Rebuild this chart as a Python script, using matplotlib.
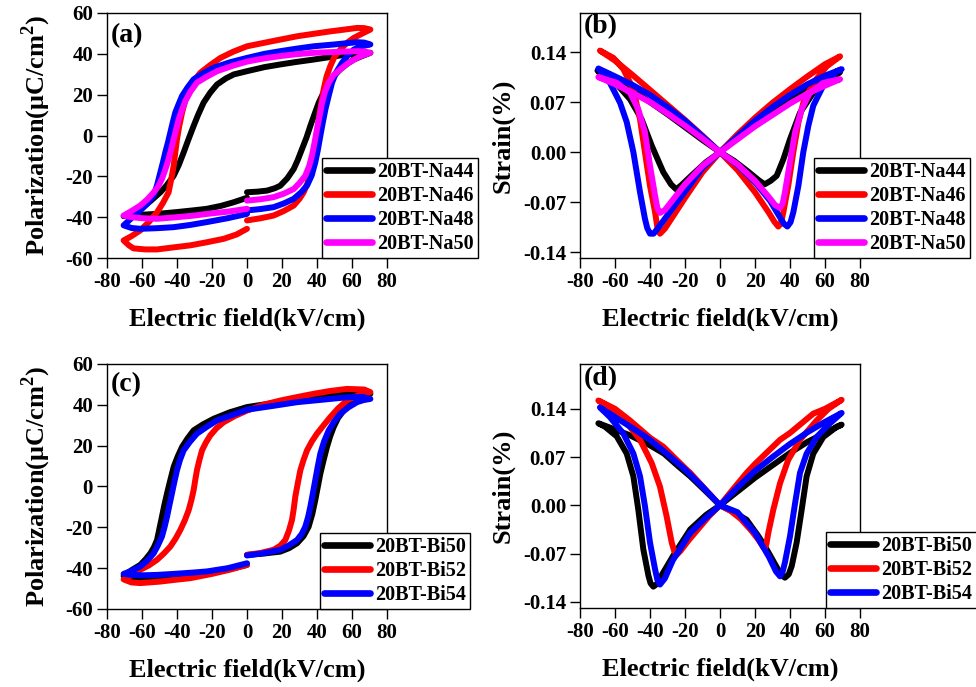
import matplotlib
matplotlib.use('Agg')
import matplotlib.pyplot as plt

plt.rcParams['font.family'] = ['Liberation Serif', 'DejaVu Serif']
plt.rcParams['font.weight'] = 'bold'
plt.rcParams['axes.labelweight'] = 'bold'
plt.rcParams['axes.unicode_minus'] = False
plt.rcParams['mathtext.fontset'] = 'custom'
plt.rcParams['mathtext.rm'] = 'Liberation Serif:bold'
plt.rcParams['mathtext.bf'] = 'Liberation Serif:bold'

# ---------------- P-E loops, Na series (a) ----------------
# path: 0 -> +70 (rising), +70 -> -70 (upper), -70 -> 0 (lower)
na44_e = [0, 6, 11.4, 16, 19, 23, 26.7, 29, 31.4, 34, 36.2, 38.6, 41, 44, 46.7, 50, 53.3, 57, 61, 66, 70.5,
          66, 57, 48, 38.1, 28, 19, 10, 0, -7.6, -12, -17.1, -21, -24.8, -28, -30.5, -33.5, -36.2, -39,
          -41.9, -46, -49.5, -55, -61, -66, -70.5,
          -66, -60, -51.4, -40, -30, -22.9, -15, -8, 0]
na44_p = [-27.8, -27.5, -27, -25.8, -24.6, -21, -16.4, -12, -6.7, -1, 4.7, 10.5, 16.1, 21.5, 25.9, 29.5, 32.4, 35, 37.2, 39, 40.5,
          40, 39.7, 38.5, 37.2, 36, 34.8, 33.5, 31.5, 29.9, 28, 25, 21, 16.1, 10, 4.7, -2, -8.3, -14.5,
          -19.7, -24.5, -27.8, -32, -36, -38.3, -39.5,
          -39.2, -38.8, -38.4, -37.5, -36.6, -35.9, -34.5, -32.8, -30.5]

na46_e = [0, 8, 15.2, 21, 26.7, 30, 32.4, 34.5, 36.2, 37.8, 39, 40, 41, 42.3, 43.8, 45.5, 47.6, 50, 53.3, 57, 61, 66, 70.5,
          67, 62.9, 55, 47.6, 38, 28.6, 15, 0, -8, -15.2, -21, -26.7, -30.5, -33.3, -35.3, -37.1, -38.7, -40,
          -41, -41.9, -43.3, -44.8, -48, -51.4, -56, -61, -66, -70.5,
          -67.5, -64.8, -58, -51.4, -42, -32.4, -23, -13.3, -6, 0]
na46_p = [-41.6, -40.5, -39.2, -37, -34.3, -31, -27.8, -23.5, -18, -11.5, -5, 1.5, 8, 15, 22.6, 29, 34, 38.5, 42.1, 45.3, 47.8, 50, 51.9,
          52.6, 52.7, 51.8, 51, 49.8, 48.6, 46.3, 43.7, 41, 38, 34.5, 30.7, 26.5, 22.6, 17, 11.2, 4.7, -1.8,
          -8.5, -14.8, -21.5, -27.8, -33, -37.6, -42.3, -46.5, -49.3, -51.4,
          -53.8, -55.3, -55.8, -55.8, -54.8, -53.8, -52.3, -50.6, -48.5, -45.7]

na48_e = [0, 8, 15.2, 21, 26.7, 31, 34.3, 37, 39, 40.5, 41.9, 43.3, 44.8, 46.7, 48.6, 51, 54.3, 57.5, 61, 65.5, 70.5,
          67, 62.9, 50, 38.1, 28, 19, 10, 0, -10, -19, -25, -30.5, -34, -37.1, -39, -41, -42.4, -43.8,
          -45.2, -46.7, -48, -49.5, -51.3, -53.3, -57, -61, -66, -70.5,
          -66, -61, -51.4, -41.9, -32.4, -22.9, -11, 0]
na48_p = [-36.7, -36, -35.1, -33.3, -31, -27.8, -24.5, -19.5, -13.2, -7, -0.2, 6.3, 12.8, 19.5, 25.9, 31, 35.6, 39.2, 42.1, 43.7, 44.6,
          45.5, 45.7, 44.6, 43.7, 42.5, 41.3, 40, 38, 35.8, 33.2, 30.5, 27.5, 23.5, 19.4, 15.5, 11.2, 6.5, 1.5,
          -3.5, -8.3, -13, -18, -24, -29.4, -33.5, -36.7, -40.5, -44,
          -45.3, -45.7, -45.4, -44.9, -43.8, -42.4, -40.5, -38.4]

na50_e = [0, 8, 15.2, 21, 26.7, 30, 33.3, 35.5, 37.1, 38.6, 40, 41.5, 42.9, 44.6, 46.7, 49.5, 53.3, 58, 62.9, 67, 70.5,
          67, 62.9, 50, 38.1, 28, 19, 10, 0, -8, -17.1, -23, -28.6, -32.3, -35.2, -37.2, -39, -40.5, -41.9,
          -43.3, -44.8, -46.6, -48.6, -50.8, -53.3, -57, -61, -66, -70.5,
          -66, -60, -51.4, -40, -30, -22.9, -11, 0]
na50_p = [-31.9, -31.2, -30.2, -28.5, -26.2, -23.3, -19.7, -15, -9.9, -3.5, 3.1, 9.6, 16.1, 21.5, 25.9, 29.6, 32.4, 35.5, 38, 39.5, 40.5,
          41.2, 41.3, 40.9, 40.5, 39.8, 38.9, 37.8, 36.2, 34.2, 31.5, 28.8, 25.9, 21.5, 16.9, 12.5, 8, 3, -1.8,
          -6.7, -11.5, -16.5, -21.3, -25, -27.8, -31.3, -34.3, -37, -39.2,
          -40, -40.5, -40.8, -40, -39.2, -38.4, -37.3, -35.9]

# ---------------- S-E loops, Na series (b) ----------------
# path: 0 -> right min -> +70 -> 0 -> left min -> -70 -> 0
sna44_e = [0, 8, 16, 22, 25.5, 29, 32.4, 36.2, 40, 45.7, 53.3, 61, 68.6,
           60, 50, 40, 30, 20, 10, 0,
           -8, -16, -22, -25, -28, -32.4, -39, -44.8, -51.4, -59, -66.7, -70,
           -60, -50, -40, -30, -20, -10, 0]
sna44_s = [0, -0.012, -0.027, -0.039, -0.045, -0.040, -0.033, -0.010, 0.018, 0.055, 0.083, 0.097, 0.112,
           0.103, 0.090, 0.075, 0.058, 0.040, 0.020, 0,
           -0.014, -0.032, -0.046, -0.052, -0.045, -0.028, 0.009, 0.046, 0.074, 0.095, 0.106, 0.114,
           0.100, 0.086, 0.070, 0.053, 0.035, 0.017, 0]

sna46_e = [0, 10, 20, 28, 31, 33.3, 34.8, 36.2, 39, 41.9, 44.8, 47.6, 53.3, 61, 68.6,
           60, 50, 40, 30, 20, 10, 0,
           -10, -20, -28, -31.5, -34.3, -35.8, -37.1, -40, -42.9, -45.7, -49.5, -55.2, -61, -68.6,
           -60, -50, -40, -30, -20, -10, 0]
sna46_s = [0, -0.025, -0.056, -0.085, -0.097, -0.104, -0.100, -0.084, -0.047, 0, 0.0415, 0.069, 0.097, 0.120, 0.134,
           0.123, 0.106, 0.088, 0.069, 0.048, 0.025, 0,
           -0.028, -0.064, -0.094, -0.107, -0.114, -0.105, -0.084, -0.047, 0, 0.046, 0.088, 0.116, 0.132, 0.142,
           0.128, 0.108, 0.087, 0.066, 0.045, 0.023, 0]

sna48_e = [0, 10, 20, 28.6, 34, 36.5, 38.5, 40.3, 41.9, 44.8, 47.6, 50.5, 53.3, 59, 66.7, 69.5,
           60, 50, 40, 30, 20, 10, 0,
           -10, -20, -30, -36, -38, -40, -41.6, -42.9, -45.7, -49.5, -53.3, -57.1, -62.9, -69.5,
           -60, -50, -40, -30, -20, -10, 0]
sna48_s = [0, -0.018, -0.042, -0.068, -0.090, -0.100, -0.104, -0.098, -0.084, -0.047, 0, 0.037, 0.065, 0.093, 0.113, 0.116,
           0.107, 0.095, 0.080, 0.063, 0.044, 0.022, 0,
           -0.022, -0.055, -0.088, -0.108, -0.114, -0.114, -0.106, -0.093, -0.056, 0, 0.042, 0.069, 0.097, 0.117,
           0.106, 0.094, 0.080, 0.063, 0.044, 0.022, 0]

sna50_e = [0, 10, 20, 28, 31.5, 34.3, 35.8, 37.1, 40, 42.9, 46.7, 51.4, 59, 68.6,
           60, 50, 40, 30, 20, 10, 0,
           -10, -20, -28, -31.5, -34.3, -35.8, -37.1, -40, -42.9, -46.7, -51.4, -59, -69.5,
           -60, -50, -40, -30, -20, -10, 0]
sna50_s = [0, -0.017, -0.040, -0.063, -0.074, -0.078, -0.072, -0.056, -0.014, 0.028, 0.060, 0.083, 0.097, 0.102,
           0.093, 0.082, 0.068, 0.052, 0.036, 0.018, 0,
           -0.019, -0.045, -0.070, -0.081, -0.085, -0.078, -0.061, -0.019, 0.028, 0.060, 0.083, 0.097, 0.105,
           0.095, 0.083, 0.070, 0.054, 0.037, 0.019, 0]

# ---------------- P-E loops, Bi series (c) ----------------
bi50_e = [0, 10, 19, 24, 28.6, 32.3, 35.2, 37.3, 39, 40.5, 41.9, 43.8, 45.7, 47.5, 49.5, 52, 55.2, 59, 62.9, 66.5, 70.5,
          66, 57.1, 47.6, 38, 28.6, 19, 10, 0, -10, -19, -25, -30.5, -34, -37.1, -39.7, -41.9, -43.8, -45.7,
          -47.2, -48.6, -50, -51.4, -53.2, -55.2, -58, -61, -66, -70.5,
          -66, -61, -50, -40, -32.4, -20, -10, 0]
bi50_p = [-33.5, -32.8, -31.9, -30.2, -27.8, -24.3, -19.7, -13.5, -6.7, 0, 6.3, 13, 19.4, 24.5, 29.1, 33.5, 37.2, 40.8, 43.7, 44.8, 45.4,
          46, 45.8, 44.6, 43.3, 42.2, 41.3, 40.2, 38.9, 36.3, 33.2, 30.5, 27.5, 23.5, 19.4, 14.5, 9.6, 3.2, -3.4,
          -9, -14.8, -20.5, -26.2, -29.8, -32.7, -35.7, -38.4, -41, -43.8,
          -45, -45.4, -45, -44.5, -44, -42.3, -40.5, -38.4]

bi52_e = [0, 8, 15.2, 19, 21.9, 24, 25.7, 26.7, 27.6, 29, 30.5, 32.3, 34.3, 37, 40, 43.8, 47.6, 52, 57.1, 63, 70.5,
          67, 57.1, 47.6, 38.1, 28.6, 19, 10, 0, -7, -13.3, -17.5, -21, -23.5, -25.7, -27.2, -28.6, -29.6, -30.5,
          -31.8, -33.3, -35.5, -38.1, -40.8, -43.8, -47.5, -51.4, -56, -61, -66, -70.5,
          -66, -61, -50, -40, -32.4, -20, -10, 0]
bi52_p = [-33.5, -32.5, -31, -29, -26.2, -21.5, -16.4, -11, -5, 1.5, 8, 13, 17.7, 22, 25.9, 30, 34, 38.2, 42.1, 44.5, 46.2,
          47.5, 47.8, 46.8, 45.4, 43.8, 42.1, 40.2, 37.2, 34.5, 31.5, 28.5, 25, 21.5, 17.7, 13, 8, 3, -1.8,
          -6.7, -11.5, -16.5, -21.3, -25.5, -29.4, -32.8, -35.9, -38.6, -40.8, -43.5, -45.5,
          -47, -47.3, -46.6, -45.6, -44.9, -42.8, -40.8, -38.4]

bi54_e = [0, 10, 19, 24, 28.6, 31.3, 33.3, 34.9, 36.2, 37.6, 39, 40.4, 41.9, 44, 46.7, 49.8, 53.3, 58, 62.9, 66.5, 70.5,
          66, 57, 43, 28.6, 15, 0, -8.5, -17.1, -23, -28.6, -32.7, -36.2, -38.3, -40, -41.5, -42.9,
          -44.3, -45.7, -47.1, -48.6, -51, -53.3, -57, -61, -66, -70.5,
          -66, -60, -51.4, -40, -30, -22.9, -11, 0]
bi54_p = [-33.8, -32.6, -31, -28.8, -26.2, -23.2, -19.7, -15, -9.9, -3.5, 3.1, 9.6, 16.1, 22, 27.5, 31.8, 35.6, 38.8, 41.3, 42.3, 42.9,
          43.9, 43.7, 42.5, 41.3, 39.5, 37.6, 35, 32.4, 29.2, 25.9, 21.8, 17.7, 13, 8, 2.3, -3.4,
          -9, -14.8, -19.8, -24.5, -29, -32.7, -36.3, -39.2, -41.3, -42.8,
          -43.3, -43.5, -43.3, -42.7, -42.1, -41.6, -40, -37.6]

# ---------------- S-E loops, Bi series (d) ----------------
sbi50_e = [0, 8, 15.2, 22, 26.7, 32, 35, 37.1, 39.3, 41, 43.8, 46.7, 49.5, 53.3, 59, 66.7, 69.5,
           60, 50, 40, 30, 20, 10, 0,
           -8, -17, -26.7, -33, -36, -38.1, -39.7, -40.9, -43.8, -46.7, -49.5, -53.3, -59, -65.7, -69.5,
           -60, -51, -40, -32, -24, -17, -8, 0]
sbi50_s = [0, -0.010, -0.021, -0.045, -0.064, -0.088, -0.101, -0.105, -0.100, -0.088, -0.054, -0.006, 0.042, 0.075, 0.099, 0.114, 0.117,
           0.105, 0.092, 0.076, 0.058, 0.040, 0.020, 0,
           -0.014, -0.035, -0.073, -0.100, -0.114, -0.118, -0.113, -0.102, -0.064, -0.006, 0.042, 0.075, 0.100, 0.114, 0.119,
           0.110, 0.101, 0.087, 0.075, 0.057, 0.042, 0.020, 0]

sbi52_e = [0, 6, 12, 18, 22, 24.5, 25.7, 26.6, 27.6, 30.5, 34.3, 39, 45.7, 55.2, 62, 69.5,
           60, 53.3, 40, 34.3, 20, 15.2, 8, 0,
           -6, -12, -18, -22.5, -24.8, -26.2, -27.6, -30.5, -34.3, -39, -45.7, -55.2, -64.8, -69.5,
           -60, -51.4, -40, -32.4, -20, -17, -8, 0]
sbi52_s = [0, -0.008, -0.020, -0.037, -0.050, -0.060, -0.063, -0.055, -0.040, -0.006, 0.032, 0.066, 0.095, 0.123, 0.140, 0.153,
           0.140, 0.133, 0.105, 0.095, 0.060, 0.047, 0.025, 0,
           -0.015, -0.033, -0.051, -0.066, -0.072, -0.066, -0.054, -0.016, 0.027, 0.061, 0.095, 0.126, 0.145, 0.152,
           0.140, 0.123, 0.098, 0.085, 0.054, 0.047, 0.022, 0]

sbi54_e = [0, 10, 20, 28, 32, 34.3, 35.8, 37.1, 40, 42.9, 45.7, 49.5, 55.2, 62.9, 69.5,
           60, 50, 40, 30, 20, 10, 0,
           -8, -17, -27, -31.5, -34.3, -35.8, -37.1, -40, -42.9, -45.7, -49.5, -55.2, -62.9, -68.6,
           -60, -50, -40, -30, -20, -10, 0]
sbi54_s = [0, -0.010, -0.040, -0.075, -0.096, -0.103, -0.096, -0.083, -0.045, 0.003, 0.047, 0.075, 0.099, 0.119, 0.134,
           0.121, 0.106, 0.089, 0.070, 0.050, 0.026, 0,
           -0.018, -0.040, -0.080, -0.106, -0.115, -0.108, -0.093, -0.054, -0.001, 0.042, 0.075, 0.104, 0.128, 0.142,
           0.128, 0.112, 0.095, 0.074, 0.052, 0.027, 0]

na_labels = ['20BT-Na44', '20BT-Na46', '20BT-Na48', '20BT-Na50']
bi_labels = ['20BT-Bi50', '20BT-Bi52', '20BT-Bi54']
colors = ['#000000', '#ff0000', '#0000ff', '#ff00ff']

x_ticks = [-80, -60, -40, -20, 0, 20, 40, 60, 80]
p_ticks = [-60, -40, -20, 0, 20, 40, 60]
s_ticks = [-0.14, -0.07, 0.00, 0.07, 0.14]
s_ticklabels = ['-0.14', '-0.07', '0.00', '0.07', '0.14']

LW = 4.3
fig = plt.figure(figsize=(9.76, 6.87), dpi=100)
W, H = 976, 687


def add_axes(left, top, right, bottom):
    return fig.add_axes([left / W, 1 - bottom / H, (right - left) / W, (bottom - top) / H])


def style(ax, letter, letter_y, ylabel, strain):
    ax.set_xlim(-80, 80)
    ax.set_xticks(x_ticks)
    ax.tick_params(direction='out', length=7, width=1, labelsize=15, pad=3)
    for sp in ax.spines.values():
        sp.set_linewidth(1.0)
    if strain:
        ax.set_yticks(s_ticks)
        ax.set_yticklabels(s_ticklabels)
    else:
        ax.set_ylim(-60, 60)
        ax.set_yticks(p_ticks)
    ax.set_xlabel('Electric field(kV/cm)', fontsize=19, labelpad=11)
    ax.set_ylabel(ylabel, fontsize=19, labelpad=6 if strain else 9)
    ax.text(0.012, letter_y, letter, transform=ax.transAxes, fontsize=20,
            ha='left', va='top')


def legend(ax, x0):
    leg = ax.legend(loc='lower left', bbox_to_anchor=(x0, 0.0), borderaxespad=0,
                    fontsize=14.5, frameon=True, fancybox=False, edgecolor='black',
                    framealpha=1, borderpad=0.2, labelspacing=0.2,
                    handlelength=2.3, handletextpad=0.25)
    leg.get_frame().set_linewidth(1.0)
    for h in leg.get_lines():
        h.set_linewidth(LW + 0.5)


def draw(ax, xs, ys, labels):
    for x, y, c, lab in zip(xs, ys, colors, labels):
        ax.plot(x, y, color=c, lw=LW, label=lab,
                solid_joinstyle='round', solid_capstyle='round')


pol_label = 'Polarization(μC/cm$^{2}$)'

# (a)
ax = add_axes(107, 13, 387, 258)
draw(ax, [na44_e, na46_e, na48_e, na50_e], [na44_p, na46_p, na48_p, na50_p], na_labels)
style(ax, '(a)', 0.96, pol_label, False)
legend(ax, 0.768)

# (b)
ax = add_axes(580, 13, 860, 258)
draw(ax, [sna44_e, sna46_e, sna48_e, sna50_e], [sna44_s, sna46_s, sna48_s, sna50_s], na_labels)
ax.set_ylim(-0.148, 0.1946)
style(ax, '(b)', 0.995, 'Strain(%)', True)
legend(ax, 0.836)

# (c)
ax = add_axes(107, 364, 387, 609)
draw(ax, [bi50_e, bi52_e, bi54_e], [bi50_p, bi52_p, bi54_p], bi_labels)
style(ax, '(c)', 0.965, pol_label, False)
legend(ax, 0.761)

# (d)
ax = add_axes(580, 364, 860, 608)
draw(ax, [sbi50_e, sbi52_e, sbi54_e], [sbi50_s, sbi52_s, sbi54_s], bi_labels)
ax.set_ylim(-0.149, 0.205)
style(ax, '(d)', 0.99, 'Strain(%)', True)
legend(ax, 0.879)

fig.savefig('out.png', dpi=100)
